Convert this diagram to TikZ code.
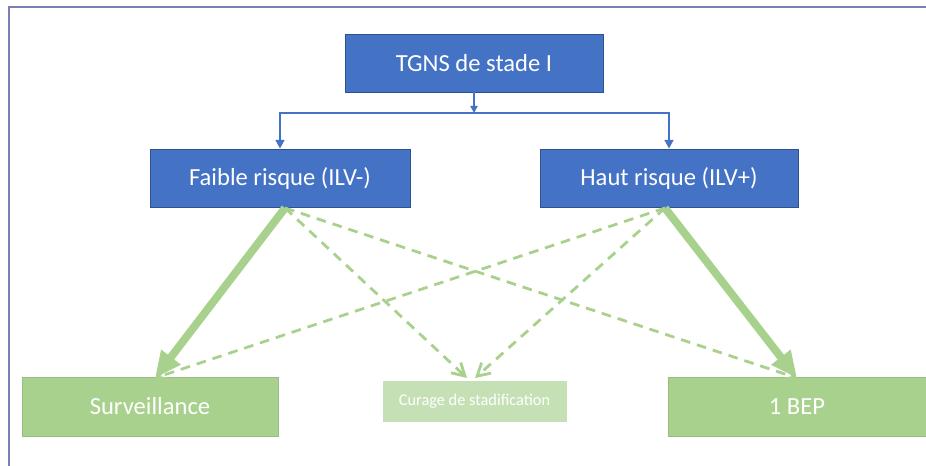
\documentclass[tikz,border=0pt]{standalone}
\usepackage{fontspec}
\setmainfont{Carlito}
\usetikzlibrary{arrows.meta}
\definecolor{bluefig}{RGB}{68,114,196}
\definecolor{blueedge}{RGB}{47,82,143}
\definecolor{greenfig}{RGB}{169,209,142}
\definecolor{lightgreenfig}{RGB}{197,224,180}
\definecolor{framefig}{RGB}{125,125,185}

\tikzset{
  bluebox/.style={fill=bluefig, draw=blueedge, line width=0.4pt, text=white,
    font=\fontsize{14}{16}\selectfont, inner sep=0pt},
  greenbox/.style={fill=greenfig, draw=greenfig!90!black, line width=0.3pt, text=white,
    font=\fontsize{14}{16}\selectfont, inner sep=0pt},
  bigarrow/.style={draw=greenfig, line width=4.5pt, -{Triangle[length=15pt,width=13pt]}},
  dasharrow/.style={draw=greenfig, line width=1.6pt, dash pattern=on 5.5pt off 4pt,
    -{Straight Barb[length=7pt,width=8pt]}},
  blueline/.style={draw=bluefig, line width=1.2pt}
}

\begin{document}
\begin{tikzpicture}[x=0.02cm, y=-0.02cm]
  \useasboundingbox (0,0) rectangle (926,466);
  % frame
  \draw[framefig, line width=1.2pt] (9,466) -- (9,7) -- (926,7);

  \node[bluebox, minimum width=5.16cm, minimum height=1.16cm] (tgns) at (474,63) {TGNS de stade I};
  \node[bluebox, minimum width=5.2cm, minimum height=1.16cm] (faible) at (280,178) {Faible risque (ILV-)};
  \node[bluebox, minimum width=5.16cm, minimum height=1.16cm] (haut) at (669,178) {Haut risque (ILV+)};

  \node[greenbox, minimum width=5.12cm, minimum height=1.18cm] (surv) at (150,406.5) {Surveillance};
  \node[greenbox, fill=lightgreenfig, draw=lightgreenfig, minimum width=3.66cm, minimum height=0.8cm,
        font=\fontsize{9.3}{11}\selectfont] (curage) at (474.5,401) {Curage de stadification};
  \node[greenbox, minimum width=5.16cm, minimum height=1.18cm] (bep) at (797,406.5) {1 BEP};

  % blue tree
  \coordinate (split) at (474,113);
  \draw[blueline, -{Triangle[length=4pt,width=4pt]}] (tgns.south) -- (split);
  \draw[blueline, -{Triangle[length=5pt,width=5pt]}] (split) -| (faible.north);
  \draw[blueline, -{Triangle[length=5pt,width=5pt]}] (split) -| (haut.north);

  % green arrows
  \coordinate (fs) at (285,208);
  \coordinate (hs) at (665,208);
  \coordinate (survtop) at (155,378);
  \coordinate (curleft) at (467,378);
  \coordinate (curright) at (475,378);
  \coordinate (beptop) at (797,378);
  \draw[dasharrow] (fs) -- (curleft);
  \draw[dasharrow] (fs) -- (beptop);
  \draw[dasharrow] (hs) -- (curright);
  \draw[dasharrow] (hs) -- (survtop);
  \draw[bigarrow] (fs) -- (survtop);
  \draw[bigarrow] (hs) -- (beptop);
\end{tikzpicture}
\end{document}
